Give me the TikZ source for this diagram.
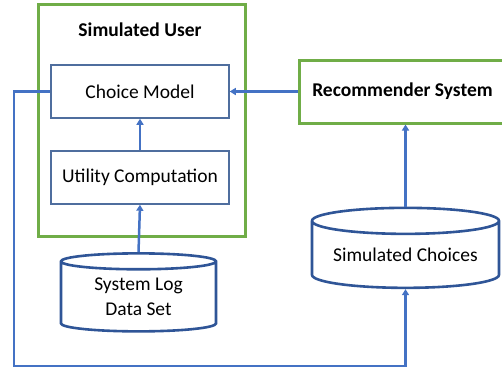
\documentclass[tikz,border=0pt]{standalone}
\usepackage{fontspec}
\setmainfont{Carlito}
\usetikzlibrary{shapes.geometric,arrows.meta}
\definecolor{frameGreen}{HTML}{70AD47}
\definecolor{linkBlue}{HTML}{4472C4}
\definecolor{drumBlue}{HTML}{2F5597}
\definecolor{boxSlate}{HTML}{4F6E9E}
\tikzset{
  txt/.style={font=\fontsize{19.5}{25}\selectfont},
  head/.style={font=\fontsize{19.5}{25}\selectfont\bfseries},
  group/.style={draw=frameGreen, line width=3pt, inner sep=0pt},
  module/.style={txt, draw=boxSlate, line width=1.5pt, inner sep=0pt,
    minimum width=178pt, minimum height=53pt},
  store/.style={txt, cylinder, shape border rotate=90, draw=drumBlue, fill=white,
    line width=2.6pt, inner sep=0pt, aspect=0.18, align=center},
  link/.style={draw=linkBlue, line width=2.5pt,
    -{Triangle[length=6pt,width=7pt]}},
}
\begin{document}
\begin{tikzpicture}[x=1pt,y=-1pt]
\useasboundingbox (0,0) rectangle (502,369);
% Simulated user frame
\node[group, minimum width=207pt, minimum height=231pt] (user) at (141.5,120.5) {};
\node[head] (usertitle) at (140,30) {Simulated User};
\node[module] (choice) at (140,91.5) {Choice Model};
\node[module] (utility) at (140,177.5) {Utility Computation};
% Recommender system frame (runs off the right edge)
\node[group, head, minimum width=207pt, minimum height=63pt] (rec) at (402.5,91.5) {Recommender System};
% Data stores
\node[store, minimum width=155pt, minimum height=78pt] (log) at (138.5,297) {System Log\\Data Set};
\node[store, minimum width=187pt, minimum height=80pt] (sim) at (405.5,255) {Simulated Choices};
% Connectors
\coordinate (loopA) at (14,91.5);
\coordinate (loopB) at (14,366);
\coordinate (loopC) at (405.5,366);
\draw[link] (utility.north) -- (choice.south);
\draw[link] (log.north) -- (utility.south);
\draw[link] (rec.west) -- (choice.east);
\draw[link] (sim.north) -- (rec.south -| sim.north);
\draw[link] (choice.west) -- (loopA) -- (loopB) -- (loopC) -- (sim.south);
\end{tikzpicture}
\end{document}
